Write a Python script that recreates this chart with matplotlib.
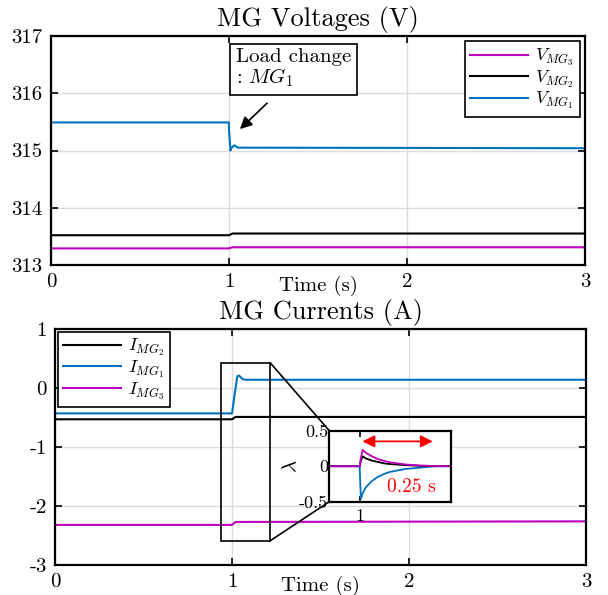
import matplotlib
matplotlib.use("Agg")
import matplotlib.pyplot as plt
from matplotlib.patches import Rectangle, ConnectionPatch

plt.rcParams['font.family'] = 'cmr10'
plt.rcParams['mathtext.fontset'] = 'cm'
plt.rcParams['axes.unicode_minus'] = False
plt.rcParams['axes.formatter.use_mathtext'] = True

BLUE = '#0072BD'
MAG = '#BF00BF'
BLK = '#000000'

# Voltages (V)
t_v = [0, 0.999, 1.0, 1.008, 1.015, 1.03, 1.05, 3.0]
v_mg1 = [315.49, 315.49, 315.35, 315.0, 315.05, 315.09, 315.05, 315.04]
t_v2 = [0, 0.999, 1.02, 3.0]
v_mg2 = [313.52, 313.52, 313.55, 313.55]
v_mg3 = [313.29, 313.29, 313.31, 313.31]

# Currents (A)
t_i = [0, 1.0, 1.015, 1.03, 1.04, 1.06, 1.08, 3.0]
i_mg1 = [-0.43, -0.43, -0.1, 0.2, 0.21, 0.15, 0.14, 0.14]
t_i2 = [0, 1.0, 1.02, 3.0]
i_mg2 = [-0.53, -0.53, -0.49, -0.49]
i_mg3 = [-2.32, -2.32, -2.27, -2.26]

# Inset: lambda
t_l = [0.9, 1.0, 1.004, 1.01, 1.02, 1.04, 1.06, 1.08, 1.1, 1.15, 1.2, 1.25, 1.3]
lam_1 = [0, 0, -0.46, -0.38, -0.3, -0.21, -0.15, -0.11, -0.08, -0.04, -0.02, 0, 0]
lam_2 = [0, 0, 0.08, 0.14, 0.11, 0.08, 0.06, 0.04, 0.03, 0.015, 0.005, 0, 0]
lam_3 = [0, 0, 0.12, 0.23, 0.19, 0.14, 0.1, 0.075, 0.055, 0.025, 0.01, 0.003, 0]

x_ticks = [0, 1, 2, 3]
v_ticks = [313, 314, 315, 316, 317]
i_ticks = [-3, -2, -1, 0, 1]
i_ticklabels = ['-3', '-2', '-1', '0', '1']


def style(ax, fs=15):
    for s in ax.spines.values():
        s.set_linewidth(1.6)
    ax.tick_params(direction='in', top=True, right=True, length=5, width=1.2,
                   labelsize=fs, pad=6)
    ax.grid(True, color='#dcdcdc', linewidth=1)
    ax.set_axisbelow(True)


fig = plt.figure(figsize=(6.08, 5.95), dpi=100)

# ---- top
ax1 = fig.add_axes([0.0839, 0.5546, 0.8783, 0.3849])
ax1.plot(t_v2, v_mg3, color=MAG, lw=1.5, label=r'$V_{MG_3}$')
ax1.plot(t_v2, v_mg2, color=BLK, lw=1.5, label=r'$V_{MG_2}$')
ax1.plot(t_v, v_mg1, color=BLUE, lw=1.5, label=r'$V_{MG_1}$')
ax1.set_xlim(0, 3)
ax1.set_ylim(313, 317)
ax1.set_xticks(x_ticks)
ax1.set_yticks(v_ticks)
ax1.set_xticklabels([str(x) for x in x_ticks])
ax1.set_yticklabels([str(v) for v in v_ticks])
style(ax1)
ax1.set_title('MG Voltages (V)', fontsize=19, pad=7)
ax1.set_xlabel('Time (s)', fontsize=15, labelpad=-11)
leg1 = ax1.legend(loc='upper right', fontsize=13, handlelength=3.2,
                  fancybox=False, edgecolor='black', framealpha=1,
                  borderaxespad=0.3, labelspacing=0.02, handletextpad=0.4,
                  borderpad=0.3)
leg1.get_frame().set_linewidth(1.2)
ax1.annotate('', xy=(1.05, 315.34), xytext=(1.225, 315.86),
             arrowprops=dict(arrowstyle='-|>', color='black', lw=1.2,
                             mutation_scale=18))
ax1.text(1.04, 316.08, 'Load change\n: $MG_1$', fontsize=15, ha='left', va='bottom',
         linespacing=1.0,
         bbox=dict(boxstyle='square,pad=0.28', fc='white', ec='black', lw=1.2))

# ---- bottom
ax2 = fig.add_axes([0.0905, 0.0504, 0.8734, 0.3966])
ax2.plot(t_i2, i_mg2, color=BLK, lw=1.5, label=r'$I_{MG_2}$')
ax2.plot(t_i, i_mg1, color=BLUE, lw=1.5, label=r'$I_{MG_1}$')
ax2.plot(t_i2, i_mg3, color=MAG, lw=1.5, label=r'$I_{MG_3}$')
ax2.set_xlim(0, 3)
ax2.set_ylim(-3, 1)
ax2.set_xticks(x_ticks)
ax2.set_yticks(i_ticks)
ax2.set_xticklabels([str(x) for x in x_ticks])
ax2.set_yticklabels(i_ticklabels)
style(ax2)
ax2.set_title('MG Currents (A)', fontsize=19, pad=7)
ax2.set_xlabel('Time (s)', fontsize=15, labelpad=-11)
leg2 = ax2.legend(loc='upper left', fontsize=13, handlelength=3.2,
                  fancybox=False, edgecolor='black', framealpha=1,
                  borderaxespad=0.15, labelspacing=0.02, handletextpad=0.4,
                  borderpad=0.3)
leg2.get_frame().set_linewidth(1.2)

ax2.add_patch(Rectangle((0.936, -2.59), 0.279, 3.02, fill=False, ec='black',
                        lw=1.2, zorder=5))

# ---- inset
ax3 = fig.add_axes([0.5416, 0.1568, 0.1997, 0.1193])
ax3.plot(t_l, lam_1, color=BLUE, lw=1.3)
ax3.plot(t_l, lam_2, color=BLK, lw=1.3)
ax3.plot(t_l, lam_3, color=MAG, lw=1.3)
ax3.set_xlim(0.9, 1.3)
ax3.set_ylim(-0.5, 0.5)
ax3.set_xticks([1])
ax3.set_xticklabels(['1'])
ax3.set_yticks([-0.5, 0, 0.5])
ax3.set_yticklabels(['-0.5', '0', '0.5'])
for s in ax3.spines.values():
    s.set_linewidth(1.6)
ax3.tick_params(direction='in', top=True, right=True, length=4, width=1.2,
                labelsize=13, pad=1)
ax3.tick_params(axis='x', pad=5)
ax3.set_ylabel(r'$\lambda$', fontsize=15)
ax3.yaxis.set_label_coords(-0.24, 0.5)
ax3.annotate('', xy=(1.0, 0.35), xytext=(1.25, 0.35),
             arrowprops=dict(arrowstyle='<|-|>', color='#FF0000', lw=1.3,
                             mutation_scale=18))
ax3.text(1.17, -0.3, '0.25 s', color='#FF0000', fontsize=14, ha='center',
         va='center')

for xy_a, xy_b in [((1.215, 0.43), (0.9, 0.5)), ((1.215, -2.59), (0.9, -0.5))]:
    con = ConnectionPatch(xyA=xy_a, coordsA=ax2.transData, xyB=xy_b,
                          coordsB=ax3.transData, color='black', lw=1.2)
    fig.add_artist(con)

fig.savefig('out.png', dpi=100)
